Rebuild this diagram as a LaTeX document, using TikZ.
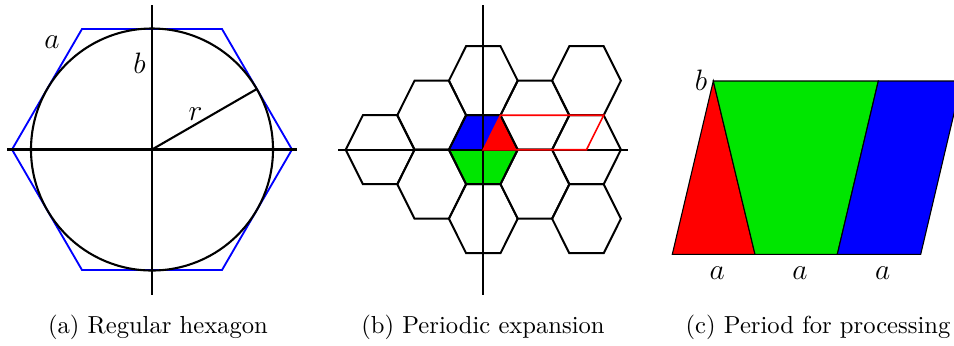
\documentclass[tikz,border=0pt]{standalone}
\usetikzlibrary{calc}
\definecolor{hexblue}{RGB}{0,0,255}
\definecolor{hexred}{RGB}{255,0,0}
\definecolor{hexgreen}{RGB}{0,230,0}
\begin{document}
\begin{tikzpicture}[x=0.4064pt,y=-0.4064pt,
  axis/.style={draw=black,line width=0.85pt},
  hexline/.style={draw=black,line width=0.8pt,line join=miter},
  thinline/.style={draw=black,line width=0.45pt,line join=miter},
  lbl/.style={inner sep=0pt,font=\fontsize{11.5}{14}\selectfont},
  captext/.style={inner sep=0pt,font=\fontsize{10}{12}\selectfont}]
\clip (0,0) rectangle (954,345);
\fill[white] (0,0) rectangle (954,345);

% ---------------- (a) ----------------
\coordinate (ca) at (152,149.5);
\draw[hexblue,line width=0.75pt,line join=miter]
  ($(ca)+(-140,0)$) -- ($(ca)+(-70,-120.5)$) -- ($(ca)+(70,-120.5)$) --
  ($(ca)+(140,0)$) -- ($(ca)+(70,120.5)$) -- ($(ca)+(-70,120.5)$) -- cycle;
\draw[axis] (ca) circle[radius=121];
\coordinate (avt) at (152,5);
\coordinate (avb) at (152,295);
\coordinate (ahl) at (7,149.5);
\coordinate (ahr) at (297,149.5);
\coordinate (arad) at ($(ca)+(104.8,-60.5)$);
\draw[axis] (avt) -- (avb);
\draw[axis] (ahl) -- (ahr);
\draw[axis] (ca) -- (arad);
\node[lbl] (la) at (52,42.5) {$a$};
\node[lbl] (lb) at (139.5,63) {$b$};
\node[lbl] (lr) at (195.5,114) {$r$};

% ---------------- (b) ----------------
\def\R{34.4}
\def\H{34.5}
\coordinate (cb) at (483.3,149.7);
% coloured central cell
\fill[hexblue] ($(cb)+(-\R,0)$) -- ($(cb)+(-\R/2,-\H)$) -- ($(cb)+(\R/2,-\H)$) -- (cb) -- cycle;
\fill[hexred] (cb) -- ($(cb)+(\R/2,-\H)$) -- ($(cb)+(\R,0)$) -- cycle;
\fill[hexgreen] ($(cb)+(-\R,0)$) -- ($(cb)+(\R,0)$) -- ($(cb)+(\R/2,\H)$) -- ($(cb)+(-\R/2,\H)$) -- cycle;
% hexagons
\foreach \i/\j in {0/0,0/-2,-1/-1,-2/0,-1/1,0/2,1/-1,1/1,2/-2,2/0,2/2}{
  \coordinate (hc) at ($(cb)+(1.5*\R*\i,\H*\j)$);
  \draw[hexline] ($(hc)+(-\R,0)$) -- ($(hc)+(-\R/2,-\H)$) -- ($(hc)+(\R/2,-\H)$) --
    ($(hc)+(\R,0)$) -- ($(hc)+(\R/2,\H)$) -- ($(hc)+(-\R/2,\H)$) -- cycle;
}
\coordinate (bvt) at (483.3,5);
\coordinate (bvb) at (483.3,295);
\coordinate (bhl) at (338.3,149.7);
\coordinate (bhr) at (628.3,149.7);
\draw[axis] (bvt) -- (bvb);
\draw[axis] (bhl) -- (bhr);
% red period parallelogram
\draw[hexred,line width=0.65pt,line join=miter] (cb) -- ($(cb)+(\R/2,-\H)$) -- ($(cb)+(3.5*\R,-\H)$) -- ($(cb)+(3*\R,0)$) -- cycle;

% ---------------- (c) ----------------
\coordinate (p1) at (672.3,254.3);
\coordinate (p2) at (713.3,81);
\coordinate (p3) at (755,254.3);
\coordinate (p4) at (837.3,254.3);
\coordinate (p5) at (878.3,81);
\coordinate (p6) at (920.7,254.3);
\coordinate (p7) at (961.7,81);
\path[fill=hexred,thinline] (p1) -- (p2) -- (p3) -- cycle;
\path[fill=hexgreen,thinline] (p2) -- (p5) -- (p4) -- (p3) -- cycle;
\path[fill=hexblue,thinline] (p4) -- (p5) -- (p7) -- (p6) -- cycle;
\node[lbl] (cbl) at (701,80) {$b$};
\node[lbl] (ca1) at (717.3,273) {$a$};
\node[lbl] (ca2) at (800,273) {$a$};
\node[lbl] (ca3) at (882.7,273) {$a$};

% ---------------- captions ----------------
\node[captext] (capa) at (158,327) {(a) Regular hexagon};
\node[captext] (capb) at (483,327) {(b) Periodic expansion};
\node[captext] (capc) at (818,327) {(c) Period for processing};
\end{tikzpicture}
\end{document}
